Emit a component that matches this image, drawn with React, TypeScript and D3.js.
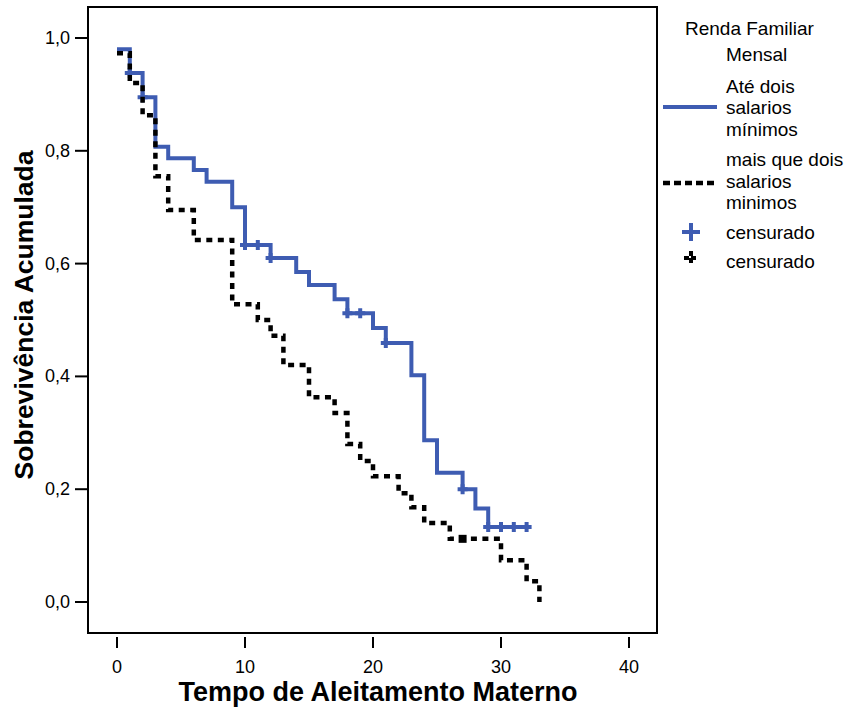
import React from 'react';
import * as d3 from 'd3';

// Kaplan-Meier steps
const groupA = 'Até dois salarios mínimos';
const groupB = 'mais que dois salarios minimos';

const blueTimes = [0, 1, 2, 3, 4, 6, 7, 9, 10, 12, 14, 15, 17, 18, 20, 21, 23, 24, 25, 27, 28, 29];
const blueSurv = [0.98, 0.938, 0.895, 0.807, 0.787, 0.766, 0.745, 0.7, 0.633, 0.61, 0.585, 0.562, 0.537, 0.512, 0.486, 0.459, 0.402, 0.287, 0.229, 0.2, 0.166, 0.133];
const blueEnd = 32;
const blueCensored = [1, 2, 10, 11, 12, 18, 19, 21, 27, 29, 30, 31, 32];

const blackTimes = [0, 1, 2, 3, 4, 6, 9, 11, 12, 13, 15, 17, 18, 19, 20, 22, 23, 24, 26, 30, 32, 33];
const blackSurv = [0.973, 0.92, 0.863, 0.755, 0.695, 0.642, 0.528, 0.5, 0.472, 0.42, 0.363, 0.335, 0.28, 0.25, 0.223, 0.193, 0.168, 0.14, 0.112, 0.074, 0.037, 0];
const blackEnd = 33;
const blackCensored = [27];

const xTicks = [0, 10, 20, 30, 40];
const yTicks = [0, 0.2, 0.4, 0.6, 0.8, 1.0];

const BLUE = '#3e5cb2';
const FONT = '"Liberation Sans", Arial, sans-serif';

type Pt = [number, number];

const buildSteps = (times: number[], surv: number[], end: number): Pt[] => {
  const pts: Pt[] = times.map((t, i) => [t, surv[i]]);
  if (end > times[times.length - 1]) pts.push([end, surv[surv.length - 1]]);
  return pts;
};

const valueAt = (times: number[], surv: number[], t: number) => {
  let v = surv[0];
  times.forEach((tt, i) => {
    if (tt <= t) v = surv[i];
  });
  return v;
};

const App = () => {
  const x = d3.scaleLinear().domain([0, 40]).range([117, 629]);
  const y = d3.scaleLinear().domain([0, 1]).range([602, 38]);

  const line = d3.line<Pt>()
    .x(d => x(d[0]))
    .y(d => y(d[1]))
    .curve(d3.curveStepAfter);

  const bluePath = line(buildSteps(blueTimes, blueSurv, blueEnd)) || '';
  const blackPath = line(buildSteps(blackTimes, blackSurv, blackEnd)) || '';

  const frame = { left: 88, top: 7, right: 657, bottom: 633 };

  const plus = (cx: number, cy: number, s: number) =>
    `M${cx - s},${cy}H${cx + s}M${cx},${cy - s}V${cy + s}`;

  const legendLines = [
    { text: 'Renda Familiar', x: 685, y: 35 },
    { text: 'Mensal', x: 726, y: 61 },
    { text: 'Até dois', x: 726, y: 93 },
    { text: 'salarios', x: 726, y: 114 },
    { text: 'mínimos', x: 726, y: 136 },
    { text: 'mais que dois', x: 726, y: 166 },
    { text: 'salarios', x: 726, y: 188 },
    { text: 'minimos', x: 726, y: 209 },
    { text: 'censurado', x: 726, y: 239 },
    { text: 'censurado', x: 726, y: 268 },
  ];

  return (
    <svg width={846} height={708} style={{ position: 'absolute', left: 0, top: 0, background: '#fff' }}
      fontFamily={FONT}>
      <rect x={0} y={0} width={846} height={708} fill="#fff" />

      {/* plot frame */}
      <rect x={frame.left} y={frame.top} width={frame.right - frame.left} height={frame.bottom - frame.top}
        fill="none" stroke="#000" strokeWidth={2} />

      {/* y axis */}
      {yTicks.map(t => (
        <g key={'y' + t}>
          <line x1={75} x2={frame.left} y1={y(t)} y2={y(t)} stroke="#000" strokeWidth={2} />
          <text x={70} y={y(t) + 6} textAnchor="end" fontSize={18}>{t.toFixed(1).replace('.', ',')}</text>
        </g>
      ))}

      {/* x axis */}
      {xTicks.map(t => (
        <g key={'x' + t}>
          <line x1={x(t)} x2={x(t)} y1={637} y2={648} stroke="#000" strokeWidth={2} />
          <text x={x(t)} y={673} textAnchor="middle" fontSize={18}>{t}</text>
        </g>
      ))}

      <text x={378} y={701} textAnchor="middle" fontSize={27} fontWeight="bold">Tempo de Aleitamento Materno</text>
      <text transform="translate(33,315) rotate(-90)" textAnchor="middle" fontSize={26.5} fontWeight="bold">Sobrevivência Acumulada</text>

      {/* curves */}
      <path d={bluePath} fill="none" stroke={BLUE} strokeWidth={4} />
      {blueCensored.map(t => (
        <path key={'bc' + t} d={plus(x(t), y(valueAt(blueTimes, blueSurv, t)), 5)} stroke={BLUE} strokeWidth={4} fill="none" />
      ))}
      <path d={blackPath} fill="none" stroke="#000" strokeWidth={4.5} strokeDasharray="6 5.5" />
      {blackCensored.map(t => (
        <rect key={'kc' + t} x={x(t) - 4} y={y(valueAt(blackTimes, blackSurv, t)) - 4} width={8} height={8} fill="#000" />
      ))}

      {/* legend */}
      {legendLines.map((l, i) => (
        <text key={'lg' + i} x={l.x} y={l.y} fontSize={19}>{l.text}</text>
      ))}
      <line x1={663} x2={717} y1={107} y2={107} stroke={BLUE} strokeWidth={4}>
        <title>{groupA}</title>
      </line>
      <line x1={663} x2={717} y1={183} y2={183} stroke="#000" strokeWidth={4.5} strokeDasharray="7 4">
        <title>{groupB}</title>
      </line>
      <path d={plus(691, 232, 9)} stroke={BLUE} strokeWidth={4} fill="none" />
      <path d={plus(691, 258, 7)} stroke="#000" strokeWidth={4} fill="none" strokeDasharray="5 2" />
    </svg>
  );
};

export default App;
